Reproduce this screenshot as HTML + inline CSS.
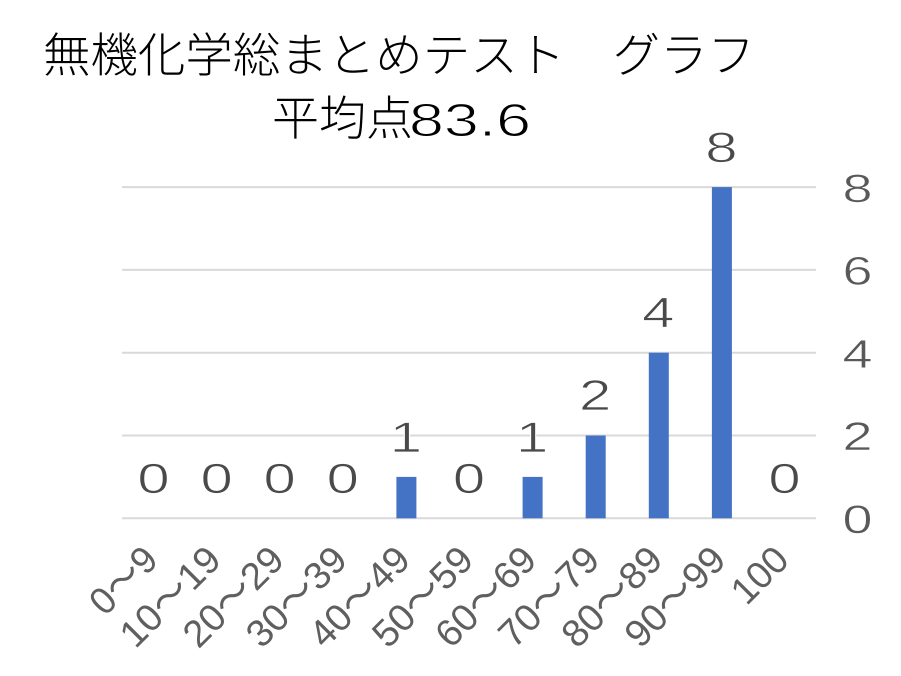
<!DOCTYPE html>
<html>
<head>
<meta charset="utf-8">
<style>
html,body{margin:0;padding:0;background:#fff;}
svg{display:block;}
</style>
</head>
<body>
<svg width="901" height="676" viewBox="0 0 901 676" xmlns="http://www.w3.org/2000/svg">
<rect width="901" height="676" fill="#ffffff"/>
<!-- Title -->
<g font-family="'Liberation Sans','Noto Sans CJK JP',sans-serif" fill="#000">
<text x="43" y="72" font-size="47" font-weight="300" textLength="712" lengthAdjust="spacingAndGlyphs">無機化学総まとめテスト　グラフ</text>
<text x="272" y="135" font-size="47" font-weight="300">平均点</text>
<text x="409" y="136" font-size="46" textLength="122" lengthAdjust="spacingAndGlyphs" stroke="#fff" stroke-width="1">83.6</text>
</g>
<!-- Gridlines -->
<g stroke="#d9d9d9" stroke-width="2">
<line x1="122" y1="518.3" x2="816" y2="518.3"/>
<line x1="122" y1="435.5" x2="816" y2="435.5"/>
<line x1="122" y1="352.7" x2="816" y2="352.7"/>
<line x1="122" y1="269.9" x2="816" y2="269.9"/>
<line x1="122" y1="187.1" x2="816" y2="187.1"/>
</g>
<!-- Bars -->
<g fill="#4472c4">
<rect x="396.4" y="476.9" width="20" height="41.4"/>
<rect x="522.6" y="476.9" width="20" height="41.4"/>
<rect x="585.7" y="435.5" width="20" height="82.8"/>
<rect x="648.8" y="352.7" width="20" height="165.6"/>
<rect x="711.9" y="187.1" width="20" height="331.2"/>
</g>
<!-- Data labels -->
<g font-family="'Liberation Sans',sans-serif" font-size="43" fill="#4a4a4a" text-anchor="middle" stroke="#fff" stroke-width="0.8">
<text transform="translate(153.5,493) scale(1.35,1)">0</text>
<text transform="translate(216.6,493) scale(1.35,1)">0</text>
<text transform="translate(279.7,493) scale(1.35,1)">0</text>
<text transform="translate(342.8,493) scale(1.35,1)">0</text>
<text transform="translate(405.9,452) scale(1.35,1)">1</text>
<text transform="translate(469,493) scale(1.35,1)">0</text>
<text transform="translate(532.1,452) scale(1.35,1)">1</text>
<text transform="translate(595.2,410) scale(1.35,1)">2</text>
<text transform="translate(658.3,327) scale(1.35,1)">4</text>
<text transform="translate(721.4,162) scale(1.35,1)">8</text>
<text transform="translate(784.5,493) scale(1.35,1)">0</text>
</g>
<!-- Right axis labels -->
<g font-family="'Liberation Sans',sans-serif" font-size="40" fill="#595959" text-anchor="middle" stroke="#fff" stroke-width="0.6">
<text transform="translate(857.5,202) scale(1.35,1)">8</text>
<text transform="translate(857.5,284.5) scale(1.35,1)">6</text>
<text transform="translate(857.5,367.3) scale(1.35,1)">4</text>
<text transform="translate(857.5,450.1) scale(1.35,1)">2</text>
<text transform="translate(857.5,532.9) scale(1.35,1)">0</text>
</g>
<!-- Category axis labels -->
<g font-family="'Liberation Sans','Noto Sans CJK JP',sans-serif" font-size="38" fill="#5f5f5f" text-anchor="end">
<text transform="translate(160,562) rotate(-45)" textLength="78" lengthAdjust="spacingAndGlyphs">0～9</text>
<text transform="translate(223.1,562) rotate(-45)" textLength="124" lengthAdjust="spacingAndGlyphs">10～19</text>
<text transform="translate(286.2,562) rotate(-45)" textLength="124" lengthAdjust="spacingAndGlyphs">20～29</text>
<text transform="translate(349.3,562) rotate(-45)" textLength="124" lengthAdjust="spacingAndGlyphs">30～39</text>
<text transform="translate(412.4,562) rotate(-45)" textLength="124" lengthAdjust="spacingAndGlyphs">40～49</text>
<text transform="translate(475.5,562) rotate(-45)" textLength="124" lengthAdjust="spacingAndGlyphs">50～59</text>
<text transform="translate(538.6,562) rotate(-45)" textLength="124" lengthAdjust="spacingAndGlyphs">60～69</text>
<text transform="translate(601.7,562) rotate(-45)" textLength="124" lengthAdjust="spacingAndGlyphs">70～79</text>
<text transform="translate(664.8,562) rotate(-45)" textLength="124" lengthAdjust="spacingAndGlyphs">80～89</text>
<text transform="translate(727.9,562) rotate(-45)" textLength="124" lengthAdjust="spacingAndGlyphs">90～99</text>
<text transform="translate(791,562) rotate(-45)" textLength="63" lengthAdjust="spacingAndGlyphs">100</text>
</g>
</svg>
</body>
</html>
